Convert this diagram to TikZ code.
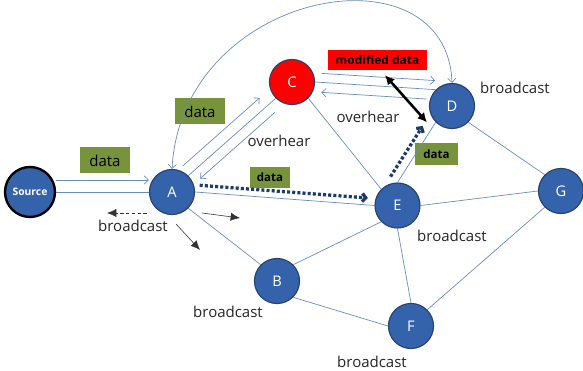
\documentclass[tikz,border=0pt]{standalone}
\usepackage{fontspec}
\setmainfont{Open Sans}
\usepackage{tikz}
\usetikzlibrary{shapes,arrows.meta}

\definecolor{stblue}{RGB}{52,99,172}
\definecolor{stedge}{RGB}{40,66,110}
\definecolor{linkblue}{RGB}{105,140,190}
\definecolor{boxgreen}{RGB}{119,147,60}
\definecolor{hopblue}{RGB}{32,58,104}

\begin{document}
\begin{tikzpicture}[x=0.03cm, y=-0.03cm,
  station/.style={shape=circle, draw=stedge, line width=1pt, fill=stblue, text=white,
    minimum size=1.35cm, inner sep=0pt, font=\fontsize{12.5}{14}\selectfont},
  link/.style={draw=linkblue, line width=0.6pt},
  flow/.style={link, >={Straight Barb[length=3.5pt,width=7pt]}, ->},
  hop/.style={draw=hopblue, line width=2.8pt, dash pattern=on 2.6pt off 1.8pt,
    -{Straight Barb[length=3pt,width=7pt]}},
  tamper/.style={line width=2.2pt, black, {Latex[length=8pt,width=8pt]}-{Latex[length=8pt,width=8pt]}},
  bcast/.style={black!80, line width=0.5pt, -{Latex[length=8pt,width=7pt]}},
  databox/.style={shape=rectangle, fill=boxgreen, minimum width=1.5cm, minimum height=0.78cm,
    inner sep=0pt, font=\fontsize{12.8}{14}\selectfont},
  tagbox/.style={shape=rectangle, fill=boxgreen, minimum width=1.2cm, minimum height=0.63cm,
    inner sep=0pt, font=\bfseries\fontsize{9.8}{11}\selectfont},
  lbl/.style={inner sep=0pt, text=black!85, font=\fontsize{12.8}{14}\selectfont}]

\useasboundingbox (0,0) rectangle (583,371);

\node (s) at (30,192) [station, draw=black, line width=2pt, minimum size=1.5cm, font=\bfseries\fontsize{8.8}{10}\selectfont] {Source};
\node (a) at (172,192) [station] {A};
\node (b) at (277,281) [station] {B};
\node (c) at (292,82) [station, fill=red] {C};
\node (d) at (452,106) [station] {D};
\node (e) at (397.5,205.5) [station] {E};
\node (f) at (411,326) [station] {F};
\node (g) at (561,191) [station] {G};

\node (d1) at (105,160.5) [databox] {data};
\node (d2) at (200,111.5) [databox] {data};
\node (t1) at (270,177.5) [tagbox] {data};
\node (t2) at (436.5,154) [tagbox, minimum width=1.29cm, minimum height=0.66cm] {data};
\node (m) at (377.5,60) [shape=rectangle, fill=red, minimum width=2.97cm, minimum height=0.6cm, inner sep=0pt, font=\bfseries\fontsize{10.2}{12}\selectfont] {modified data};

\node (oh1) at (279,141) [lbl] {overhear};
\node (oh2) at (368,117) [lbl] {overhear};
\node (ba) at (133,226) [lbl] {broadcast};
\node (bb) at (228,312) [lbl] {broadcast};
\node (bd) at (515,88) [lbl] {broadcast};
\node (be) at (452,236) [lbl] {broadcast};
\node (bf) at (372,362) [lbl] {broadcast};

% links
\draw [link] (s.east) -- (a.west) ;
\draw [link] (a.east) -- (e.west) ;
\draw [link] (a.45) -- (c.225) ;
\draw [link] (a.-45) -- (b.135) ;
\draw [link] (c.east) -- (d.135) ;
\draw [link] (c.-45) -- (e.135) ;
\draw [link] (e.north) -- (d.225) ;
\draw [link] (d.-45) -- (g.135) ;
\draw [link] (e.east) -- (g.west) ;
\draw [link] (e.225) -- (b.45) ;
\draw [link] (e.south) -- (f.north) ;
\draw [link] (b.-45) -- (f.west) ;
\draw [link] (f.45) -- (g.225) ;

% data and overheard copies
\draw [flow] ([shift={(0,-12)}]s.east) -- ([shift={(0,-12)}]a.west) ;
\draw [flow, shorten <=2pt, shorten >=10pt] ([shift={(-7.3,-8.2)}]a.45) -- ([shift={(-7.3,-8.2)}]c.225) ;
\draw [flow, shorten <=8.5pt, shorten >=6pt] ([shift={(6.6,7.5)}]c.225) -- ([shift={(6.6,7.5)}]a.45) ;
\draw [flow, shorten <=5pt, shorten >=1pt] ([shift={(0.6,-9)}]c.east) -- ([shift={(0.6,-9)}]d.135) ;
\draw [flow, shorten <=8.5pt, shorten >=4.8pt] ([shift={(0.6,10)}]d.135) -- ([shift={(0.6,10)}]c.east) ;
\draw [flow, <->] (a.north) .. controls +(10,-180) and +(-5,-140) .. (d.north) ;

% forwarding
\draw [hop, shorten <=3.5pt, shorten >=6pt] ([shift={(0.5,-7)}]a.east) -- ([shift={(0.5,-7)}]e.west) ;
\draw [hop, shorten <=1pt, shorten >=8.5pt] ([shift={(-7.6,-4.8)}]e.north) -- ([shift={(-7.6,-4.8)}]d.225) ;
\draw [tamper] ([shift={(7.5,5)}]m.south) -- ([shift={(-8.7,0)}]d.225) ;

% broadcast from A
\draw [bcast, densely dashed] ([shift={(-25,21)}]a.center) -- ++(-40,0) ;
\draw [bcast] ([shift={(30,21)}]a.center) -- ++(38,5) ;
\draw [bcast] ([shift={(4,32)}]a.center) -- ++(24,26) ;
\end{tikzpicture}
\end{document}
